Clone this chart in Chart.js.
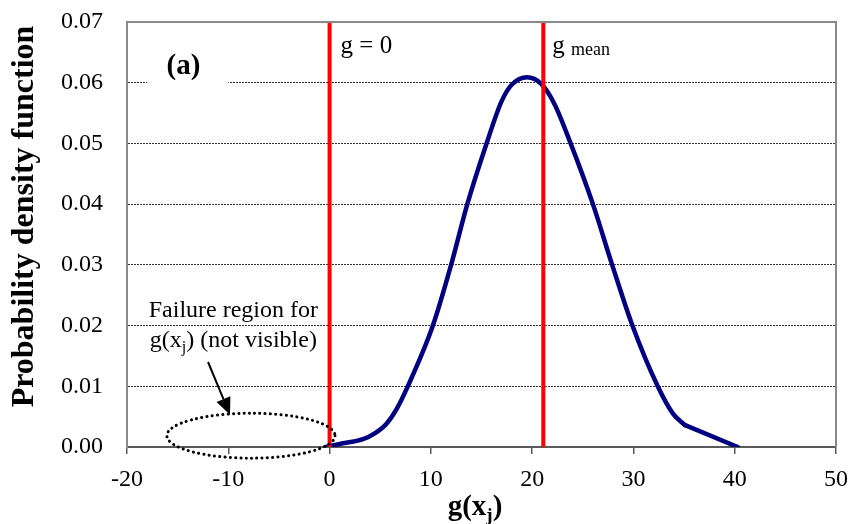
<!DOCTYPE html>
<html>
<head>
<meta charset="utf-8">
<script src="https://cdn.jsdelivr.net/npm/chart.js@4.4.0/dist/chart.umd.min.js"></script>
<style>
  html, body { margin: 0; padding: 0; background: #fff; }
  canvas { display: block; }
</style>
</head>
<body>
<canvas id="pdfChart" width="848" height="524"></canvas>
<script>
// PDF of the limit state function g(x_j)
const gValues = [-0.4, 1.0, 3.3, 4.5, 5.6, 6.6, 7.7, 10.2, 12.0, 13.6, 15.5, 17.0, 18.0, 19.5, 20.9, 22.2, 23.8, 26.0, 27.9, 29.9, 32.4, 33.9, 35.1, 40.3]
const pdfValues = [0.0, 0.0005, 0.0013, 0.0023, 0.0038, 0.0062, 0.0099, 0.02, 0.03, 0.04, 0.05, 0.057, 0.0597, 0.0609, 0.0598, 0.0565, 0.05, 0.04, 0.03, 0.02, 0.01, 0.0055, 0.0036, 0.0]

// the last interval is plotted straight (no smoothing)
const tailStart = gValues.length - 2

// vertical markers
const gZero = 0
const gMean = 21.1

// axis ranges / ticks
const xTicks = [-20, -10, 0, 10, 20, 30, 40, 50]
const yTicks = [0, 0.01, 0.02, 0.03, 0.04, 0.05, 0.06, 0.07]

const SERIF = "'Liberation Serif', 'Times New Roman', serif"

function vline(x) {
  return [{ x: x, y: yTicks[0] }, { x: x, y: yTicks[yTicks.length - 1] }]
}

function points(from, to) {
  return gValues.slice(from, to).map((g, i) => ({ x: g, y: pdfValues[from + i] }))
}

// draw a run of text pieces centred at cx
function drawParts(ctx, parts, cx, baseY) {
  let total = 0
  parts.forEach((p) => {
    ctx.font = p.f
    p.w = ctx.measureText(p.t).width
    total += p.w
  })
  let x = cx - total / 2
  ctx.textAlign = "left"
  parts.forEach((p) => {
    ctx.font = p.f
    ctx.fillText(p.t, x, baseY + p.dy)
    x += p.w
  })
}

// text, ellipse and arrow drawn over the plot
const overlayPlugin = {
  id: "overlay",
  afterDatasetsDraw(chart) {
    const ctx = chart.ctx
    const xs = chart.scales.x
    const ys = chart.scales.y
    const area = chart.chartArea
    const px = (v) => xs.getPixelForValue(v)
    const py = (v) => ys.getPixelForValue(v)

    ctx.save()

    // frame top and right
    ctx.strokeStyle = "#8a8a8a"
    ctx.lineWidth = 2
    ctx.beginPath()
    ctx.moveTo(area.left, area.top)
    ctx.lineTo(area.right, area.top)
    ctx.lineTo(area.right, area.bottom)
    ctx.stroke()

    // panel label with white backing
    ctx.fillStyle = "#fff"
    ctx.fillRect(px(-18), py(0.0665), px(-10) - px(-18), py(0.0575) - py(0.0665))
    ctx.fillStyle = "#000"
    ctx.font = "bold 29px " + SERIF
    ctx.textBaseline = "alphabetic"
    ctx.textAlign = "left"
    ctx.fillText("(a)", px(-16.1), py(0.0614))

    // marker labels
    ctx.font = "25px " + SERIF
    ctx.fillText("g = 0", px(gZero) + 11, py(0.0649))
    ctx.fillText("g", px(gMean) + 9, py(0.0649))
    const gw = ctx.measureText("g ").width
    ctx.font = "18px " + SERIF
    ctx.fillText("mean", px(gMean) + 9 + gw, py(0.0646))

    // failure region note
    ctx.font = "24px " + SERIF
    ctx.textAlign = "center"
    const cx = px(-9.5)
    ctx.fillText("Failure region for", cx, py(0.0214))
    drawParts(ctx, [
      { t: "g(x", f: "24px " + SERIF, dy: 0 },
      { t: "j", f: "16px " + SERIF, dy: 5 },
      { t: ") (not visible)", f: "24px " + SERIF, dy: 0 },
    ], cx, py(0.0165))

    // arrow
    const x0 = px(-12.0), y0 = py(0.014)
    const x1 = px(-9.83), y1 = py(0.0053)
    const ang = Math.atan2(y1 - y0, x1 - x0)
    const head = 17, half = 7.5
    ctx.strokeStyle = "#000"
    ctx.lineWidth = 2
    ctx.beginPath()
    ctx.moveTo(x0, y0)
    ctx.lineTo(x1 - Math.cos(ang) * head, y1 - Math.sin(ang) * head)
    ctx.stroke()
    ctx.beginPath()
    ctx.moveTo(x1, y1)
    ctx.lineTo(x1 - Math.cos(ang) * head - Math.sin(ang) * half, y1 - Math.sin(ang) * head + Math.cos(ang) * half)
    ctx.lineTo(x1 - Math.cos(ang) * head + Math.sin(ang) * half, y1 - Math.sin(ang) * head - Math.cos(ang) * half)
    ctx.closePath()
    ctx.fill()

    // dotted ellipse around the failure region
    const ecx = px(-7.76), ecy = py(0.00186)
    const rx = px(-7.76 + 8.3) - ecx
    const ry = py(0.00186 - 0.0037) - ecy
    ctx.setLineDash([0.1, 5.2])
    ctx.lineCap = "round"
    ctx.lineWidth = 3
    ctx.beginPath()
    ctx.ellipse(ecx, ecy, rx, ry, 0, 0, Math.PI * 2)
    ctx.stroke()
    ctx.setLineDash([])
    ctx.lineCap = "butt"

    // axis titles
    drawParts(ctx, [
      { t: "g(x", f: "bold 29px " + SERIF, dy: 0 },
      { t: "j", f: "bold 19px " + SERIF, dy: 6 },
      { t: ")", f: "bold 29px " + SERIF, dy: 0 },
    ], 475, 515)

    ctx.save()
    ctx.translate(25, (area.top + area.bottom) / 2 - 18)
    ctx.rotate(-Math.PI / 2)
    ctx.font = "bold 32px " + SERIF
    ctx.textAlign = "center"
    ctx.textBaseline = "middle"
    ctx.fillText("Probability density function", 0, 0)
    ctx.restore()

    ctx.restore()
  },
}

const curveStyle = {
  showLine: true,
  borderColor: "#000080",
  borderWidth: 4.5,
  pointRadius: 0,
  borderCapStyle: "round",
  borderJoinStyle: "round",
}

const ctx = document.getElementById("pdfChart").getContext("2d")
new Chart(ctx, {
  type: "scatter",
  data: {
    datasets: [
      {
        label: "g = 0",
        data: vline(gZero),
        showLine: true,
        borderColor: "#ff0000",
        borderWidth: 4,
        pointRadius: 0,
      },
      {
        label: "g mean",
        data: vline(gMean),
        showLine: true,
        borderColor: "#ff0000",
        borderWidth: 4,
        pointRadius: 0,
      },
      {
        label: "PDF",
        data: points(0, tailStart + 1),
        cubicInterpolationMode: "monotone",
        ...curveStyle,
      },
      {
        label: "PDF tail",
        data: points(tailStart, gValues.length),
        ...curveStyle,
      },
    ],
  },
  options: {
    responsive: false,
    devicePixelRatio: 1,
    animation: false,
    layout: { padding: { left: 0, right: 12, top: 22, bottom: 0 } },
    plugins: {
      legend: { display: false },
      tooltip: { enabled: false },
    },
    scales: {
      x: {
        type: "linear",
        min: xTicks[0],
        max: xTicks[xTicks.length - 1],
        afterBuildTicks: (s) => { s.ticks = xTicks.map((v) => ({ value: v })) },
        afterFit: (s) => {
          s.height = 77
          s.paddingLeft = 0
          s.paddingRight = 0
        },
        border: { color: "#5a5a5a", width: 2 },
        grid: { drawOnChartArea: false, drawTicks: true, tickLength: 7, color: "#5a5a5a", lineWidth: 1.5 },
        ticks: {
          color: "#000",
          font: { family: SERIF, size: 24 },
          padding: 11,
          maxRotation: 0,
        },
      },
      y: {
        type: "linear",
        min: yTicks[0],
        max: yTicks[yTicks.length - 1],
        afterBuildTicks: (s) => { s.ticks = yTicks.map((v) => ({ value: v })) },
        afterFit: (s) => {
          s.width = 127
          s.paddingTop = 0
          s.paddingBottom = 0
        },
        // border.dash styles the grid lines in v4
        border: { color: "#8a8a8a", width: 2, dash: [2, 1] },
        grid: {
          drawTicks: false,
          color: (c) => (c.tick.value > 0 && c.tick.value < 0.07 ? "#333" : "transparent"),
          lineWidth: 1,
        },
        ticks: {
          color: "#000",
          font: { family: SERIF, size: 24 },
          padding: 24,
          callback: (v) => v.toFixed(2),
        },
      },
    },
  },
  plugins: [overlayPlugin],
})
</script>
</body>
</html>
